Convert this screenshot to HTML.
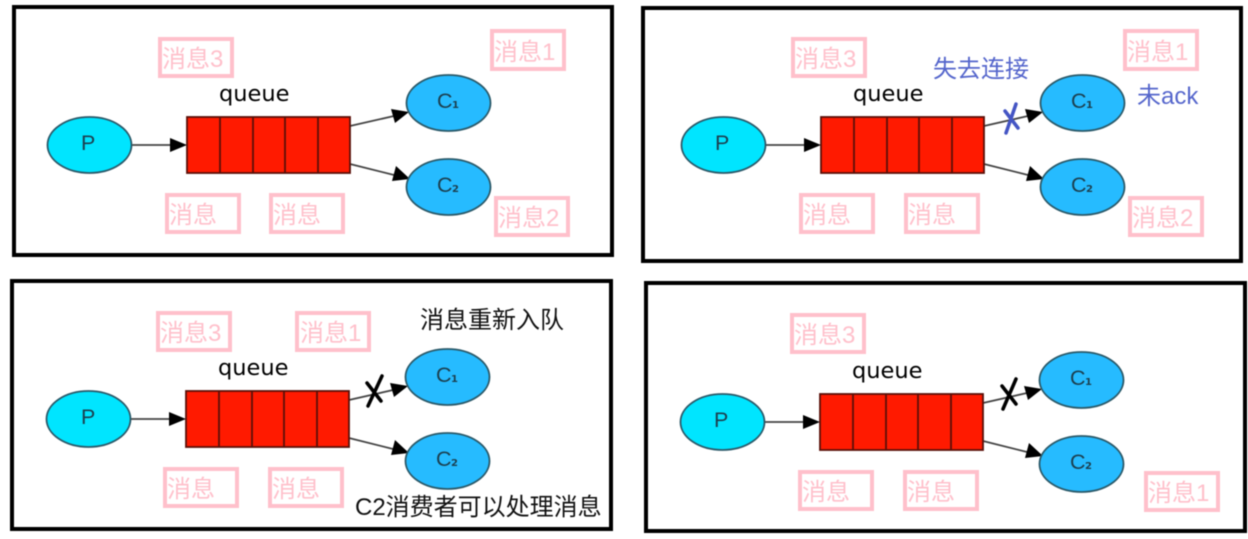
<!DOCTYPE html>
<html><head><meta charset="utf-8">
<style>
html,body{margin:0;padding:0;background:#fff;width:1248px;height:539px;overflow:hidden}
svg{display:block;filter:blur(0.45px)}
text{font-family:"Liberation Sans","Noto Sans CJK SC",sans-serif}
.f{fill:#fff;stroke:#000;stroke-width:4}
.b{fill:#fff;stroke:#ffc0cb;stroke-width:4}
.t{fill:#ffc0cb;font-size:24px}
.q{fill:#000;font-size:22.5px;font-family:"DejaVu Sans",sans-serif}
.n{fill:#1c3f4f;font-size:21.5px}
.s{fill:#1c3f4f;font-size:10px;font-weight:bold;font-family:"DejaVu Sans",sans-serif}
.l{stroke:#444;stroke-width:1.8;fill:none}
.e{stroke:#2b5a6a;stroke-width:1.8}
.r{fill:#ff1a00;stroke:#5a1008;stroke-width:1.8}
.d{stroke:#5a1008;stroke-width:1.8}
.u{fill:#5566cc;font-size:24px}
.k{fill:#111;font-size:24px}
</style></head><body>
<svg width="1248" height="539" viewBox="0 0 1248 539" xmlns="http://www.w3.org/2000/svg">
<defs>
<g id="dg">
<line class="l" x1="131" y1="145" x2="172" y2="145"/>
<polygon points="187,145 170,138 170,152" fill="#000"/>
<line class="l" x1="350" y1="126" x2="394" y2="116"/>
<polygon points="409,112 391,109 395,123" fill="#000"/>
<line class="l" x1="350" y1="164" x2="394" y2="175"/>
<polygon points="410,179 396,166 392,181" fill="#000"/>
<ellipse class="e" cx="89.5" cy="145" rx="42" ry="28" fill="#00e5ff"/>
<ellipse class="e" cx="448.5" cy="103" rx="42" ry="28" fill="#26bbff"/>
<ellipse class="e" cx="448.5" cy="187" rx="42" ry="28" fill="#26bbff"/>
<rect class="r" x="187" y="117" width="163" height="56"/>
<line class="d" x1="220" y1="117" x2="220" y2="173"/>
<line class="d" x1="253" y1="117" x2="253" y2="173"/>
<line class="d" x1="285" y1="117" x2="285" y2="173"/>
<line class="d" x1="318" y1="117" x2="318" y2="173"/>
</g>
</defs>

<!-- frames -->
<rect class="f" x="14" y="7" width="598" height="248"/>
<rect class="f" x="643" y="8" width="598" height="253"/>
<rect class="f" x="12" y="281" width="599" height="248"/>
<rect class="f" x="646" y="283" width="599" height="248"/>

<!-- panel 1 -->
<use href="#dg"/>
<text class="q" x="219" y="101">queue</text>
<text class="n" x="81" y="150">P</text>
<text class="n" x="437" y="108">C</text><text class="s" x="452" y="108">1</text>
<text class="n" x="437" y="192">C</text><text class="s" x="452" y="192">2</text>
<rect class="b" x="160" y="39" width="72" height="37"/><text class="t" x="162" y="67">消息3</text>
<rect class="b" x="492" y="31" width="72" height="38"/><text class="t" x="494" y="60">消息1</text>
<rect class="b" x="167" y="195" width="72" height="37"/><text class="t" x="169" y="223">消息</text>
<rect class="b" x="271" y="195" width="72" height="37"/><text class="t" x="273" y="223">消息</text>
<rect class="b" x="496" y="198" width="72" height="37"/><text class="t" x="498" y="226">消息2</text>

<!-- panel 2 -->
<use href="#dg" x="634"/>
<text class="q" x="853" y="101">queue</text>
<text class="n" x="715" y="150">P</text>
<text class="n" x="1071" y="108">C</text><text class="s" x="1086" y="108">1</text>
<text class="n" x="1071" y="192">C</text><text class="s" x="1086" y="192">2</text>
<rect class="b" x="793" y="39" width="72" height="37"/><text class="t" x="795" y="67">消息3</text>
<rect class="b" x="1125" y="31" width="72" height="38"/><text class="t" x="1127" y="60">消息1</text>
<rect class="b" x="801" y="195" width="72" height="37"/><text class="t" x="803" y="223">消息</text>
<rect class="b" x="906" y="195" width="72" height="37"/><text class="t" x="908" y="223">消息</text>
<rect class="b" x="1130" y="198" width="72" height="37"/><text class="t" x="1132" y="226">消息2</text>
<text class="u" x="933" y="77">失去连接</text>
<text class="u" x="1137" y="104">未ack</text>
<g stroke="#4455c4" stroke-width="3.5" stroke-linecap="round"><line x1="1016" y1="104" x2="1006" y2="133"/><line x1="1005" y1="111" x2="1018" y2="128"/></g>

<!-- panel 3 -->
<use href="#dg" x="-1" y="274"/>
<text class="q" x="218" y="375">queue</text>
<text class="n" x="81" y="424">P</text>
<text class="n" x="436" y="382">C</text><text class="s" x="451" y="382">1</text>
<text class="n" x="436" y="466">C</text><text class="s" x="451" y="466">2</text>
<rect class="b" x="158" y="313" width="72" height="37"/><text class="t" x="160" y="341">消息3</text>
<rect class="b" x="297" y="313" width="72" height="37"/><text class="t" x="300" y="341">消息1</text>
<rect class="b" x="165" y="469" width="72" height="37"/><text class="t" x="167" y="497">消息</text>
<rect class="b" x="270" y="469" width="72" height="37"/><text class="t" x="272" y="497">消息</text>
<text class="k" x="420" y="328">消息重新入队</text>
<text class="k" x="355" y="515">C2消费者可以处理消息</text>
<g stroke="#000" stroke-width="3.5" stroke-linecap="round"><line x1="382" y1="376" x2="368" y2="406"/><line x1="367" y1="383" x2="381" y2="401"/></g>

<!-- panel 4 -->
<use href="#dg" x="633" y="277"/>
<text class="q" x="852" y="378">queue</text>
<text class="n" x="714" y="427">P</text>
<text class="n" x="1070" y="385">C</text><text class="s" x="1085" y="385">1</text>
<text class="n" x="1070" y="469">C</text><text class="s" x="1085" y="469">2</text>
<rect class="b" x="792" y="315" width="72" height="37"/><text class="t" x="794" y="343">消息3</text>
<rect class="b" x="800" y="472" width="72" height="37"/><text class="t" x="802" y="500">消息</text>
<rect class="b" x="905" y="472" width="72" height="37"/><text class="t" x="907" y="500">消息</text>
<rect class="b" x="1146" y="473" width="72" height="37"/><text class="t" x="1148" y="501">消息1</text>
<g stroke="#000" stroke-width="3.5" stroke-linecap="round"><line x1="1016" y1="379" x2="1003" y2="409"/><line x1="1002" y1="386" x2="1016" y2="404"/></g>
</svg>
</body></html>
